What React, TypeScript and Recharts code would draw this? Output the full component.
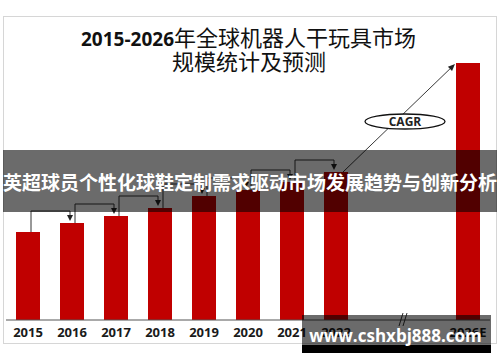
import React from "react";
import { BarChart, Bar, XAxis, YAxis } from "recharts";

// ---- data ----
const CATEGORIES = ["2015", "2016", "2017", "2018", "2019", "2020", "2021", "2022", "gap1", "gap2", "2026E"];
const VALUES: (number | null)[] = [8.8, 9.7, 10.4, 11.2, 12.4, 13.0, 13.8, 14.8, null, null, 25.7];
const TITLE_NUM = "2015-2026";
const TITLE_CN = "年全球机器人干玩具市场";
const TITLE_LINE2 = "规模统计及预测";
const BANNER = "英超球员个性化球鞋定制需求驱动市场发展趋势与创新分析";
const WATERMARK = "www.cshxbj888.com";
const CAGR_LABEL = "CAGR";
const LAST_ACTUAL = "2022";
const FORECAST = "2026E";

const data = CATEGORIES.map((c, i) => ({ name: c, value: VALUES[i] }));

const W = 500;
const H = 362;
const MARGIN = { top: 60, right: 10, bottom: 12, left: 6 };
const STEP = (W - MARGIN.left - MARGIN.right) / CATEGORIES.length;
const SANS = "'Open Sans', 'Noto Sans', sans-serif";
const CJK = "'Noto Sans CJK SC', 'Noto Sans', sans-serif";

const BarShape = (props: any) => {
  const { x, y, width, height, index } = props;
  if (height == null || !isFinite(y)) return null;
  const v = VALUES[index] as number;
  const k = height / v;
  const base = y + height;
  const cx = x + width / 2;
  const els: React.ReactNode[] = [
    <rect key="r" x={x} y={y} width={width} height={height} fill="#c00000" />,
  ];
  const lastIdx = CATEGORIES.indexOf(LAST_ACTUAL);
  const nv = VALUES[index + 1];
  if (index < lastIdx && nv != null) {
    const nTop = base - nv * k;
    const hY = nTop - 12;
    const sx = cx + 3;
    const ex = cx + STEP - 2;
    const tip = nTop - 2;
    els.push(
      <g key="b">
        <polyline points={`${sx},${y} ${sx},${hY} ${ex},${hY} ${ex},${tip - 5}`} fill="none" stroke="#333" strokeWidth={1} />
        <polygon points={`${ex - 3},${tip - 6} ${ex + 3},${tip - 6} ${ex},${tip}`} fill="#222" />
      </g>
    );
  }
  if (index === lastIdx) {
    const fIdx = CATEGORIES.indexOf(FORECAST);
    const fv = VALUES[fIdx] as number;
    const fTop = base - fv * k;
    const fLeft = x + (fIdx - index) * STEP - 1;
    const sx = cx + 7;
    const sy = y;
    const ex = fLeft;
    const ey = fTop + 1;
    const dx = ex - sx;
    const dy = ey - sy;
    const len = Math.sqrt(dx * dx + dy * dy);
    const ux = dx / len;
    const uy = dy / len;
    const bx = ex - ux * 7;
    const by = ey - uy * 7;
    const px = -uy * 3;
    const py = ux * 3;
    const mx = (sx + ex) / 2 + 6;
    const my = (sy + ey) / 2 + 3.5;
    els.push(
      <g key="cagr">
        <line x1={sx} y1={sy} x2={bx} y2={by} stroke="#222" strokeWidth={0.9} />
        <polygon points={`${ex},${ey} ${bx + px},${by + py} ${bx - px},${by - py}`} fill="#222" />
        <ellipse cx={mx} cy={my} rx={40} ry={7.5} fill="#fff" stroke="#111" strokeWidth={1.3} />
        <text x={mx} y={my + 4.5} textAnchor="middle" fontFamily={SANS} fontWeight={700} fontSize={12} fill="#222">
          {CAGR_LABEL}
        </text>
      </g>
    );
  }
  return <g>{els}</g>;
};

export default function App() {
  return (
    <div style={{ position: "absolute", left: 0, top: 0, width: W, height: H, background: "#fff", overflow: "hidden" }}>
      <div
        style={{
          position: "absolute",
          left: 3,
          top: 16,
          width: 494,
          height: 328,
          border: "1px solid #d6d6d6",
          boxSizing: "border-box",
        }}
      />
      <svg width={W} height={H} style={{ position: "absolute", left: 0, top: 0 }}>
        <text x={248.5} y={46} textAnchor="middle" fill="#111">
          <tspan fontFamily={SANS} fontWeight={700} fontSize={19}>{TITLE_NUM}</tspan>
          <tspan fontFamily={CJK} fontWeight={400} fontSize={22}>{TITLE_CN}</tspan>
        </text>
        <text x={249} y={70} textAnchor="middle" fill="#111" fontFamily={CJK} fontSize={22}>
          {TITLE_LINE2}
        </text>
      </svg>
      <div style={{ position: "absolute", left: 0, top: 0 }}>
        <BarChart width={W} height={H} data={data} margin={MARGIN} barSize={24}>
          <YAxis hide domain={[0, 26]} />
          <XAxis
            dataKey="name"
            interval={0}
            tickLine={false}
            axisLine={{ stroke: "#555", strokeWidth: 1 }}
            tick={{ fill: "#1a1a1a", fontSize: 13, fontWeight: 700, fontFamily: SANS }}
            tickFormatter={(v: string) => (v.startsWith("gap") ? "" : v)}
          />
          <Bar dataKey="value" isAnimationActive={false} shape={BarShape} />
        </BarChart>
      </div>
      <svg width={W} height={H} style={{ position: "absolute", left: 0, top: 0 }}>
        <line x1={399} y1={326} x2={403} y2={313} stroke="#333" strokeWidth={1} />
        <line x1={403} y1={326} x2={407} y2={313} stroke="#333" strokeWidth={1} />
      </svg>
      <div
        style={{
          position: "absolute",
          left: 3,
          top: 150,
          width: 494,
          height: 62,
          background: "rgba(0,0,0,0.58)",
        }}
      />
      <svg width={W} height={H} style={{ position: "absolute", left: 0, top: 0 }}>
        <text x={250} y={190} textAnchor="middle" fill="#fff" fontFamily={CJK} fontWeight={700} fontSize={19}>
          {BANNER}
        </text>
        <rect x={302} y={315} width={189} height={30} fill="rgba(0,0,0,0.58)" />
        <rect x={302} y={345} width={189} height={8} fill="#000" />
        <text x={395.5} y={342} textAnchor="middle" fill="#fff" fontFamily={SANS} fontWeight={700} fontSize={17}>
          {WATERMARK}
        </text>
      </svg>
    </div>
  );
}
